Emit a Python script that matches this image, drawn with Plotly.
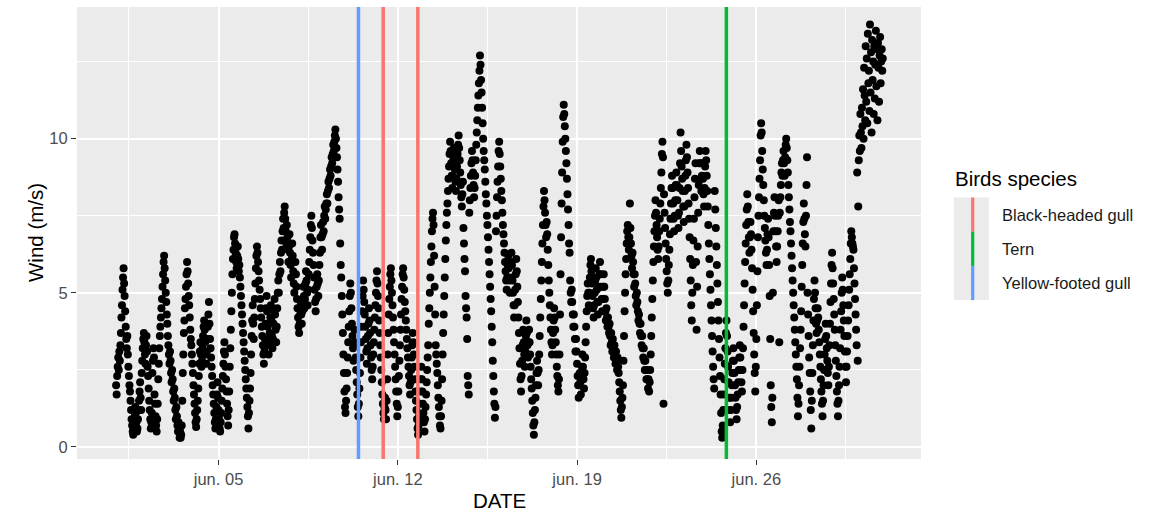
import plotly.graph_objects as go
import pandas as pd

# ---------------- data (half-hourly wind speed, m/s) ----------------
start_time = "2021-06-01 00:00"
step = "30min"

jun01 = [2.0, 1.7, 2.3, 2.6, 2.9, 2.5, 3.1, 2.8, 3.3, 3.7, 4.2, 4.6, 5.1, 5.5, 5.8, 5.3, 4.9, 4.4,
         3.9, 3.5, 3.2, 3.6, 3.0, 2.6, 2.3, 2.0, 1.8, 1.5, 1.2, 0.9, 0.7, 0.5, 0.4, 0.6, 0.8, 1.0,
         1.3, 1.1, 0.8, 0.5, 0.6, 0.9, 1.2, 1.5, 1.8, 2.1, 1.6, 1.2]
jun02 = [2.4, 2.8, 3.2, 3.5, 3.7, 3.4, 3.0, 2.7, 3.3, 3.6, 3.1, 2.6, 2.3, 1.9, 1.5, 1.2, 0.9, 0.6,
         0.8, 1.1, 2.4, 2.8, 3.2, 2.9, 1.7, 1.4, 1.0, 0.7, 0.5, 0.9, 1.4, 2.2, 2.7, 3.2, 3.6, 3.9,
         4.2, 4.5, 4.8, 5.2, 5.6, 6.0, 6.2, 5.8, 5.4, 5.0, 4.7, 4.3]
jun03 = [4.0, 3.6, 3.3, 3.0, 2.7, 3.1, 2.8, 2.4, 2.1, 2.5, 2.2, 1.8, 1.5, 1.9, 1.6, 1.2, 0.9, 1.3,
         1.0, 0.7, 0.5, 0.8, 0.6, 0.3, 0.5, 0.3, 0.4, 0.7, 1.5, 2.4, 3.0, 3.7, 4.1, 4.5, 4.8, 5.2,
         5.6, 6.0, 5.7, 5.3, 4.9, 4.6, 4.2, 3.8, 3.5, 3.3, 3.0, 2.7]
jun04 = [2.4, 2.0, 1.7, 1.4, 1.1, 0.8, 0.65, 0.9, 1.2, 1.5, 1.9, 2.3, 2.7, 3.1, 3.4, 3.0, 2.6,
         2.8, 3.2, 3.6, 3.9, 4.1, 3.8, 3.4, 3.0, 2.7, 3.1, 3.5, 3.9, 4.3, 4.7, 4.0, 3.5, 3.2, 2.9,
         2.6, 2.3, 2.0, 1.7, 1.4, 1.1, 0.8, 0.6, 0.9, 1.3, 1.7, 2.1, 1.6]
jun05 = [1.2, 0.9, 0.6, 0.5, 0.8, 1.1, 1.5, 1.9, 2.3, 2.7, 3.1, 3.4, 3.0, 2.6, 2.2, 1.8, 1.4, 1.0,
         0.7, 1.2, 1.8, 2.6, 3.2, 3.8, 4.4, 5.0, 5.6, 6.1, 6.4, 6.8, 6.9, 6.6, 6.3, 6.0, 5.8, 6.2,
         6.5, 6.1, 5.7, 5.9, 5.5, 5.2, 4.9, 4.6, 4.3, 4.0, 3.7, 3.4]
jun06 = [3.1, 2.8, 2.5, 2.2, 1.9, 1.6, 1.3, 1.0, 0.6, 1.1, 1.5, 1.9, 2.4, 3.0, 3.6, 4.1, 4.6, 4.0,
         3.5, 4.2, 4.8, 5.3, 5.8, 6.2, 6.5, 6.3, 6.0, 5.7, 5.4, 5.1, 4.8, 4.5, 4.2, 3.9, 3.6, 3.3,
         3.0, 2.7, 3.1, 3.5, 4.0, 4.5, 4.9, 4.4, 3.9, 3.4, 3.0, 3.3]
jun07 = [3.7, 4.2, 4.6, 4.1, 3.6, 3.2, 3.5, 4.0, 4.4, 4.8, 4.3, 3.8, 3.4, 3.9, 4.5, 5.0, 5.4, 5.0,
         5.6, 6.0, 5.7, 6.3, 6.7, 6.4, 7.0, 7.4, 7.1, 7.6, 7.8, 7.4, 7.0, 6.6, 7.2, 6.8, 6.4, 6.0,
         6.5, 6.9, 6.3, 5.9, 5.5, 6.1, 6.6, 6.2, 5.7, 5.3, 5.0, 5.6]
jun08 = [6.0, 5.6, 5.2, 4.8, 4.5, 4.2, 3.9, 3.7, 4.0, 4.3, 4.6, 4.3, 4.0, 4.4, 4.8, 5.2, 4.9, 4.5,
         4.8, 5.3, 5.7, 5.4, 5.0, 4.6, 5.1, 5.6, 6.0, 6.4, 6.8, 7.2, 7.5, 7.1, 6.7, 6.3, 5.9, 5.5,
         5.1, 4.7, 4.4, 4.8, 5.2, 5.6, 5.3, 4.9, 5.4, 5.9, 6.3, 6.8]
jun09 = [7.2, 6.8, 6.4, 6.9, 7.3, 7.0, 7.5, 7.8, 7.4, 7.7, 7.9, 8.2, 7.9, 8.3, 8.6, 8.4, 8.7, 9.0,
         8.8, 9.1, 9.4, 9.2, 9.5, 9.8, 9.6, 9.9, 10.1, 10.3, 10.0, 9.7, 9.4, 9.0, 8.6, 8.1, 7.7,
         7.4, 6.6, 5.9, 5.5, 4.9, 4.3, 3.7, 3.0, 2.4, 1.8, 1.3, 1.1, 1.5]
jun10 = [1.9, 2.4, 2.9, 3.4, 3.9, 4.4, 4.9, 5.3, 5.0, 4.5, 4.0, 3.6, 3.2, 2.8, 3.3, 3.8, 3.4, 2.9,
         2.5, 2.1, 1.7, 1.3, 1.0, 1.4, 1.9, 2.4, 2.9, 3.4, 3.9, 4.4, 4.9, 5.4, 5.1, 4.7, 4.3, 3.9,
         3.5, 3.1, 2.7, 3.2, 3.6, 4.0, 4.5, 4.1, 3.7, 3.3, 2.9, 2.5]
jun11 = [2.2, 2.6, 3.0, 3.4, 3.8, 4.2, 4.6, 5.0, 5.4, 5.7, 5.3, 4.9, 4.5, 4.1, 3.7, 3.3, 2.9, 2.5,
         2.1, 1.7, 1.4, 1.1, 0.9, 1.3, 1.6, 1.2, 0.9, 1.5, 2.2, 3.0, 3.7, 4.3, 4.8, 5.2, 5.6, 5.8,
         5.4, 5.0, 4.6, 4.2, 3.8, 3.4, 3.0, 2.6, 2.2, 1.8, 1.4, 1.0]
jun12 = [1.3, 1.8, 2.3, 2.8, 3.3, 3.8, 4.3, 4.8, 5.2, 5.6, 5.8, 5.5, 5.1, 4.7, 4.4, 4.1, 3.8, 3.5,
         3.2, 2.9, 2.6, 2.3, 2.0, 1.7, 2.1, 2.5, 2.9, 3.3, 3.7, 3.4, 3.0, 2.6, 2.2, 1.8, 1.5, 1.2,
         0.9, 0.6, 0.4, 0.7, 1.0, 1.4, 1.8, 2.2, 2.6, 2.2, 1.8, 1.4]
jun13 = [1.1, 0.8, 0.5, 0.9, 1.3, 1.7, 2.1, 2.5, 2.9, 3.3, 4.0, 4.5, 5.0, 5.5, 6.0, 6.5, 7.0, 7.4,
         7.6, 7.2, 6.2, 5.2, 4.3, 3.3, 3.0, 2.7, 2.4, 2.0, 1.6, 1.3, 1.0, 0.7, 0.6, 1.0, 1.5, 2.2,
         3.0, 3.7, 4.3, 4.9, 5.5, 6.1, 6.7, 7.2, 7.6, 7.9, 8.3, 8.7]
jun14 = [9.1, 9.5, 9.9, 9.6, 9.2, 8.8, 8.4, 8.8, 9.3, 9.7, 9.4, 9.0, 8.6, 8.3, 8.7, 9.1, 9.5, 9.8,
         10.1, 9.7, 9.3, 8.9, 8.5, 8.1, 7.8, 8.2, 8.6, 7.1, 6.6, 6.1, 5.7, 4.9, 4.5, 4.2, 3.5, 2.3,
         2.0, 1.7, 7.6, 8.0, 8.4, 8.8, 9.2, 9.6, 9.3, 8.9, 8.5, 8.1]
jun15 = [8.4, 8.8, 9.3, 9.8, 10.2, 10.6, 11.0, 11.4, 11.8, 12.2, 12.7, 12.4, 11.9, 11.5, 11.0, 10.5,
         10.0, 9.6, 9.3, 9.0, 8.6, 8.2, 7.9, 7.5, 7.2, 6.8, 6.4, 6.0, 5.6, 5.2, 4.8, 4.4, 3.9, 3.4,
         2.8, 2.3, 1.8, 1.4, 0.95, 1.3, 7.0, 7.5, 8.1, 8.6, 9.1, 9.6, 9.9, 9.5]
jun16 = [9.1, 8.7, 8.3, 8.0, 7.6, 7.2, 6.9, 6.6, 6.3, 6.0, 5.7, 5.4, 5.1, 5.5, 5.9, 6.2, 5.8, 5.4,
         5.0, 5.5, 6.0, 6.3, 5.9, 5.4, 5.0, 4.6, 4.2, 4.6, 5.1, 5.6, 6.1, 5.7, 5.2, 4.7, 4.2, 3.7,
         3.2, 2.7, 2.2, 1.8, 2.3, 2.8, 3.3, 3.8, 3.4, 3.0, 2.6, 3.1]
jun17 = [3.6, 4.1, 3.7, 3.3, 2.9, 3.4, 3.8, 3.4, 3.0, 2.6, 2.2, 1.9, 1.5, 1.1, 0.7, 0.4, 0.8, 1.2,
         1.6, 2.0, 2.4, 2.8, 2.4, 2.0, 2.5, 3.0, 3.6, 4.2, 4.8, 5.4, 6.0, 6.6, 7.2, 7.8, 8.3, 8.0,
         7.6, 7.2, 6.8, 7.3, 6.9, 6.4, 5.9, 5.4, 5.0, 4.6, 4.2, 3.8]
jun18 = [3.4, 3.0, 3.3, 3.7, 4.1, 4.5, 4.2, 3.8, 3.4, 3.0, 2.6, 2.3, 2.0, 1.8, 2.2, 3.0, 4.3, 5.6,
         6.8, 7.9, 8.9, 9.9, 10.7, 11.1, 10.8, 10.4, 10.0, 9.6, 9.2, 8.7, 8.2, 7.7, 7.2, 6.6, 6.3,
         5.4, 5.0, 4.7, 5.1, 4.7, 4.3, 3.9, 4.3, 3.9, 3.5, 3.1, 3.5, 3.1]
jun19 = [2.7, 2.3, 2.0, 1.6, 2.0, 2.4, 2.1, 1.7, 2.2, 2.6, 3.0, 2.6, 2.2, 1.9, 2.4, 2.9, 3.4, 3.9,
         4.4, 4.9, 5.3, 5.0, 4.6, 5.0, 5.5, 5.9, 6.1, 5.7, 5.3, 4.9, 4.5, 4.2, 4.6, 5.0, 5.4, 5.8,
         5.5, 5.1, 4.7, 4.3, 4.7, 5.2, 5.6, 6.0, 5.6, 5.2, 4.8, 4.4]
jun20 = [4.8, 5.2, 5.6, 5.2, 4.8, 4.4, 4.1, 4.5, 4.2, 3.9, 4.2, 3.9, 3.7, 4.0, 3.6, 3.3, 3.7, 3.4,
         3.1, 3.5, 3.2, 2.9, 3.3, 3.0, 2.7, 3.1, 2.8, 2.5, 2.9, 2.6, 2.4, 2.1, 1.8, 1.5, 1.2, 0.95,
         1.3, 1.6, 2.0, 2.8, 3.6, 4.4, 5.0, 5.6, 6.1, 6.6, 7.0, 7.2]
jun21 = [6.8, 6.4, 6.8, 7.9, 7.1, 6.6, 6.2, 5.8, 6.3, 6.0, 5.6, 5.2, 5.6, 5.3, 4.9, 4.6, 5.0, 4.7,
         4.4, 4.1, 4.3, 4.0, 3.7, 4.0, 3.6, 3.3, 3.6, 3.2, 2.9, 3.2, 2.8, 2.5, 2.8, 2.5, 2.2, 2.5,
         2.2, 1.9, 2.2, 1.8, 2.1, 2.5, 3.0, 3.6, 4.2, 4.8, 5.4, 6.0]
jun22 = [6.5, 7.0, 7.5, 8.0, 7.6, 7.2, 6.8, 6.4, 6.1, 6.5, 7.0, 7.4, 7.9, 8.4, 8.9, 9.5, 9.9, 9.4,
         1.4, 8.2, 7.6, 7.1, 6.6, 6.1, 5.7, 5.3, 5.0, 5.4, 5.9, 6.4, 6.9, 7.4, 7.9, 8.4, 8.8, 8.4,
         7.9, 7.4, 7.0, 7.5, 8.0, 8.5, 8.9, 8.5, 8.0, 7.5, 7.1, 7.6]
jun23 = [8.4, 9.2, 10.2, 9.6, 9.1, 8.7, 8.3, 7.8, 7.3, 7.8, 8.3, 8.8, 9.3, 9.8, 9.4, 8.9, 8.4, 7.9,
         7.4, 6.8, 6.1, 5.4, 4.6, 4.1, 5.0, 5.9, 6.7, 7.4, 8.1, 8.7, 9.2, 6.0, 3.8, 5.2, 6.5, 7.6,
         8.5, 9.2, 9.6, 9.2, 8.7, 8.3, 8.8, 9.2, 8.7, 8.2, 7.8, 8.4]
jun24 = [9.1, 9.6, 9.3, 8.8, 8.3, 7.8, 7.2, 6.6, 6.1, 5.6, 5.1, 4.6, 4.1, 3.6, 3.1, 2.6, 2.2, 1.9,
         8.3, 7.7, 7.1, 6.5, 5.9, 5.3, 4.7, 4.1, 3.5, 2.9, 2.3, 1.7, 1.1, 0.5, 0.3, 0.7, 1.2, 1.7,
         2.2, 2.7, 3.2, 3.7, 4.1, 3.6, 3.1, 2.6, 2.1, 1.6, 1.2, 0.8]
jun25 = [1.2, 1.6, 2.0, 2.4, 2.8, 3.2, 2.8, 2.4, 2.0, 1.6, 1.2, 0.9, 1.3, 1.7, 2.1, 2.5, 2.9, 3.3,
         2.9, 2.5, 2.1, 1.8, 2.5, 3.2, 3.9, 4.6, 5.3, 6.0, 6.6, 7.2, 7.7, 8.2, 7.8, 7.3, 6.8, 6.3,
         6.8, 7.3, 6.9, 6.4, 5.8, 5.1, 4.4, 3.7, 3.0, 2.4, 1.8, 2.6]
jun26 = [3.5, 4.6, 5.7, 6.8, 7.5, 8.1, 8.7, 9.3, 10.1, 10.5, 10.2, 9.6, 9.0, 8.5, 8.0, 7.5, 7.1, 6.7,
         6.3, 5.9, 6.4, 6.9, 7.4, 6.8, 5.9, 4.9, 3.5, 2.0, 1.3, 0.8, 1.6, 5.0, 7.0, 7.6, 8.1, 7.5,
         7.0, 6.5, 6.0, 6.5, 7.0, 7.5, 8.0, 3.4, 7.6, 8.1, 8.5, 8.9]
jun27 = [9.2, 8.8, 9.3, 9.6, 9.2, 8.8, 9.4, 9.8, 10.0, 9.7, 9.3, 8.9, 8.5, 8.1, 7.7, 7.3, 7.0, 6.6,
         6.2, 5.8, 5.4, 5.0, 4.6, 4.2, 3.8, 3.4, 3.0, 2.6, 2.2, 1.6, 1.0, 1.4, 2.0, 2.6, 3.2, 3.8,
         4.4, 5.2, 5.9, 6.6, 7.3, 7.9, 7.4, 6.9, 6.5, 7.5, 8.5, 9.4]
jun28 = [5.0, 4.3, 3.6, 2.9, 2.4, 1.8, 1.2, 0.6, 1.5, 2.4, 3.3, 4.1, 4.8, 5.4, 5.0, 4.5, 4.0, 3.7,
         4.1, 4.5, 4.2, 3.8, 3.4, 3.0, 2.6, 2.2, 1.8, 1.4, 1.0, 1.5, 2.0, 2.5, 3.0, 3.5, 4.0, 3.6,
         3.2, 2.8, 2.4, 2.0, 2.6, 3.3, 4.0, 4.7, 5.3, 5.9, 6.3, 5.8]
jun29 = [5.3, 4.8, 4.3, 3.8, 3.3, 2.8, 2.3, 1.8, 1.4, 1.0, 1.5, 2.0, 2.6, 3.2, 3.8, 4.4, 5.0, 5.5,
         5.1, 4.6, 4.1, 3.6, 3.1, 2.6, 2.1, 2.6, 3.1, 3.6, 4.1, 4.6, 5.1, 5.6, 6.1, 6.6, 7.0, 6.8,
         6.6, 6.5, 6.4, 5.8, 5.3, 4.8, 4.3, 3.8, 3.3, 8.9, 2.8, 7.8]
jun30 = [9.3, 10.1, 9.6, 10.8, 10.2, 9.7, 11.0, 10.4, 11.6, 10.0, 12.3, 11.4, 10.6, 13.0, 11.2,
         12.6, 10.5, 13.4, 11.8, 12.2, 10.9, 13.7, 11.5, 12.8, 10.2, 13.2, 11.9, 12.5, 10.8, 13.0,
         11.3, 12.4, 13.5, 11.7, 12.9, 10.6, 13.1, 12.3, 11.2, 12.7, 13.3, 11.8, 12.5, 12.9, 12.2,
         12.6]

days = [jun01, jun02, jun03, jun04, jun05, jun06, jun07, jun08, jun09, jun10,
        jun11, jun12, jun13, jun14, jun15, jun16, jun17, jun18, jun19, jun20,
        jun21, jun22, jun23, jun24, jun25, jun26, jun27, jun28, jun29, jun30]
wind = [v for d in days for v in d]
times = pd.date_range(start=start_time, periods=len(wind), freq=step)

# bird sightings (vertical lines)
species = ["Black-headed gull", "Tern", "Yellow-footed gull"]
species_colors = ["#F8766D", "#00BA38", "#619CFF"]
event_species = ["Yellow-footed gull", "Black-headed gull", "Black-headed gull", "Tern"]
event_times = ["2021-06-10 11:08", "2021-06-11 10:19", "2021-06-12 18:47", "2021-06-24 19:55"]

x_ticks = ["2021-06-05", "2021-06-12", "2021-06-19", "2021-06-26"]
x_tick_labels = ["jun. 05", "jun. 12", "jun. 19", "jun. 26"]
x_minor = ["2021-06-01 12:00", "2021-06-08 12:00", "2021-06-15 12:00",
           "2021-06-22 12:00", "2021-06-29 12:00"]
y_ticks = [0, 5, 10]
y_minor = [2.5, 7.5, 12.5]

# ---------------- figure ----------------
W, H = 1155, 512
L, R, T, B = 77, 234, 7, 53
PW, PH = W - L - R, H - T - B
FONT = "Liberation Sans, Arial, sans-serif"


def px(xp):
    return (xp - L) / PW


def py(yp):
    return (H - B - yp) / PH


fig = go.Figure()
fig.add_trace(go.Scatter(
    x=times, y=wind, mode="markers",
    marker=dict(color="black", size=8, line=dict(width=0)),
    showlegend=False, hoverinfo="x+y"))

color_of = dict(zip(species, species_colors))
shapes = []
for t, s in zip(event_times, event_species):
    shapes.append(dict(type="line", xref="x", yref="paper", x0=t, x1=t, y0=0, y1=1,
                       line=dict(color=color_of[s], width=3.5), layer="above"))

# manual legend (ggplot style: vertical line keys)
key_x0, key_x1 = 954, 989
key_top, key_h = 197.5, 34.2
shapes.append(dict(type="rect", xref="paper", yref="paper",
                   x0=px(key_x0), x1=px(key_x1), y0=py(key_top + 3 * key_h), y1=py(key_top),
                   fillcolor="#EBEBEB", line=dict(width=0), layer="above"))
annotations = []
for i, (s, c) in enumerate(zip(species, species_colors)):
    y0 = key_top + i * key_h
    shapes.append(dict(type="line", xref="paper", yref="paper",
                       x0=px(972.7), x1=px(972.7), y0=py(y0 + key_h), y1=py(y0),
                       line=dict(color=c, width=3.2), layer="above"))
    annotations.append(dict(text=s, xref="paper", yref="paper", x=px(1000), y=py(y0 + key_h / 2),
                            xanchor="left", yanchor="middle", showarrow=False,
                            font=dict(family=FONT, size=16.5, color="#1A1A1A")))
annotations.append(dict(text="Birds species", xref="paper", yref="paper", x=px(953), y=py(178),
                        xanchor="left", yanchor="middle", showarrow=False,
                        font=dict(family=FONT, size=20.5, color="#000000")))
annotations.append(dict(text="DATE", xref="paper", yref="paper", x=0.5, y=py(500),
                        xanchor="center", yanchor="middle", showarrow=False,
                        font=dict(family=FONT, size=20.5, color="#000000")))
annotations.append(dict(text="Wind (m/s)", xref="paper", yref="paper", x=px(35), y=0.5,
                        xanchor="center", yanchor="middle", showarrow=False, textangle=-90,
                        font=dict(family=FONT, size=20.5, color="#000000")))

fig.update_layout(
    width=W, height=H, margin=dict(l=L, r=R, t=T, b=B, pad=0),
    paper_bgcolor="white", plot_bgcolor="#EBEBEB",
    font=dict(family=FONT),
    showlegend=False, shapes=shapes, annotations=annotations,
    xaxis=dict(type="date", range=["2021-05-30 11:21", "2021-07-02 10:19"],
               tickmode="array", tickvals=x_ticks, ticktext=x_tick_labels,
               showgrid=True, gridcolor="white", gridwidth=2, zeroline=False, showline=False,
               ticks="outside", ticklen=5, tickwidth=1.3, tickcolor="#333333",
               tickfont=dict(family=FONT, size=16.5, color="#4D4D4D"),
               minor=dict(tickmode="array", tickvals=x_minor, showgrid=True,
                          gridcolor="white", gridwidth=1, ticks="")),
    yaxis=dict(range=[-0.39, 14.27], tickmode="array", tickvals=y_ticks,
               showgrid=True, gridcolor="white", gridwidth=2, zeroline=False, showline=False,
               ticks="outside", ticklen=5, tickwidth=1.3, tickcolor="#333333",
               tickfont=dict(family=FONT, size=16.5, color="#4D4D4D"),
               minor=dict(tickmode="array", tickvals=y_minor, showgrid=True,
                          gridcolor="white", gridwidth=1, ticks="")),
)

fig.write_html("out.html", config={"displayModeBar": False},
               post_script="document.body.style.margin='0';document.body.style.overflow='hidden';")
